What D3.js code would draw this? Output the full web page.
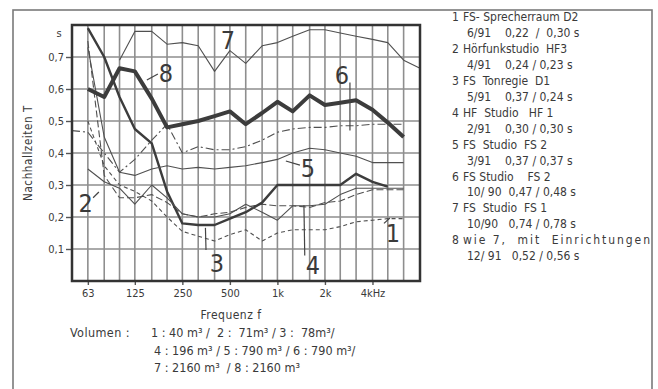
<!DOCTYPE html>
<html>
<head>
<meta charset="utf-8">
<script src="https://cdn.jsdelivr.net/npm/d3@7"></script>
<style>
  body { margin: 0; background: #fff; }
  svg text { font-family: "DejaVu Sans Condensed", "Liberation Sans Narrow", "DejaVu Sans", sans-serif; fill: #3a3a3a; }
</style>
</head>
<body>
<svg id="chart" width="658" height="389"></svg>
<script>
// third-octave frequencies used as x positions
const freqs = [50, 63, 80, 100, 125, 160, 200, 250, 315, 400, 500, 630, 800, 1000, 1250, 1600, 2000, 2500, 3150, 4000, 5000, 6300, 8000];
const gridFreqs = freqs.slice(1, -1);
const xTicks = [63, 125, 250, 500, 1000, 2000, 4000];
const xTickLabels = ['63', '125', '250', '500', '1k', '2k', '4kHz'];
const yTicks = [0.1, 0.2, 0.3, 0.4, 0.5, 0.6, 0.7];

// reverberation time per curve, values aligned with freqs (null = no point)
const curve1 = [null, 0.50, 0.36, 0.30, 0.28, 0.25, 0.20, 0.155, 0.14, 0.125, 0.145, 0.16, 0.125, 0.15, 0.16, 0.16, 0.16, 0.17, 0.185, 0.19, 0.195, 0.195, null];
const curve2 = [null, 0.75, 0.33, 0.26, 0.26, 0.27, 0.245, 0.21, 0.20, 0.21, 0.215, 0.23, 0.24, 0.235, 0.235, 0.23, 0.245, 0.25, 0.27, 0.285, 0.285, 0.285, null];
const curve3 = [null, 0.79, 0.70, 0.575, 0.475, 0.43, 0.28, 0.18, 0.175, 0.175, 0.195, 0.215, 0.245, 0.30, 0.30, 0.30, 0.30, 0.30, 0.335, 0.31, 0.295, null, null];
const curve4 = [null, 0.35, 0.31, 0.29, 0.24, 0.30, 0.26, 0.21, 0.20, 0.20, 0.21, 0.24, 0.215, 0.19, 0.235, 0.235, 0.24, 0.27, 0.29, 0.29, 0.29, 0.29, null];
const curve5 = [null, 0.73, 0.45, 0.34, 0.33, 0.35, 0.36, 0.35, 0.355, 0.35, 0.355, 0.36, 0.37, 0.38, 0.40, 0.415, 0.41, 0.40, 0.39, 0.37, 0.37, 0.37, null];
const curve6 = [0.47, 0.465, 0.40, 0.34, 0.38, 0.44, 0.49, 0.40, 0.42, 0.41, 0.41, 0.42, 0.44, 0.465, 0.475, 0.48, 0.48, 0.485, 0.485, 0.49, 0.49, 0.49, null];
const curve7 = [null, null, null, 0.69, 0.78, 0.78, 0.74, 0.745, 0.735, 0.655, 0.72, 0.68, 0.735, 0.745, 0.765, 0.785, 0.785, 0.775, 0.765, 0.755, 0.745, 0.69, 0.665];
const curve8 = [null, 0.60, 0.575, 0.665, 0.655, 0.57, 0.48, 0.49, 0.50, 0.515, 0.53, 0.49, 0.525, 0.56, 0.53, 0.58, 0.55, 0.557, 0.565, 0.535, 0.495, 0.45, null];

const curves = [
  { id: 1, values: curve1, width: 1.1, dash: '4,3' },
  { id: 2, values: curve2, width: 1.1, dash: '7,3' },
  { id: 3, values: curve3, width: 2.4, dash: null },
  { id: 4, values: curve4, width: 1.1, dash: null },
  { id: 5, values: curve5, width: 1.1, dash: null },
  { id: 6, values: curve6, width: 1.1, dash: '8,3,2,3' },
  { id: 7, values: curve7, width: 1.1, dash: null },
  { id: 8, values: curve8, width: 4, dash: null }
];

// curve numbers with leader lines, in data units (freq, seconds)
const curveLabels = [
  { text: '1', f: 5390, v: 0.15, leader: [[4730, 0.18], [5160, 0.197]] },
  { text: '2', f: 61, v: 0.244, leader: [[68, 0.26], [74, 0.278]] },
  { text: '3', f: 414, v: 0.056, leader: [[353, 0.097], [350, 0.166]] },
  { text: '4', f: 1680, v: 0.05, leader: [[1490, 0.08], [1472, 0.237]] },
  { text: '5', f: 1561, v: 0.353, leader: [[1131, 0.375], [1389, 0.362]] },
  { text: '6', f: 2562, v: 0.644, leader: [[2880, 0.62], [2880, 0.47]] },
  { text: '7', f: 486, v: 0.753, leader: null },
  { text: '8', f: 197, v: 0.65, leader: [[149, 0.628], [175, 0.647]] }
];

const legendRows = [
  ['1', 'FS- Sprecherraum D2'], ['', '6/91    0,22  /  0,30 s'],
  ['2', 'Hörfunkstudio  HF3'], ['', '4/91    0,24 / 0,23 s'],
  ['3', 'FS  Tonregie  D1'], ['', '5/91    0,37 / 0,24 s'],
  ['4', 'HF  Studio   HF 1'], ['', '2/91    0,30 / 0,30 s'],
  ['5', 'FS  Studio  FS 2'], ['', '3/91    0,37 / 0,37 s'],
  ['6', 'FS Studio    FS 2'], ['', '10/ 90  0,47 / 0,48 s'],
  ['7', 'FS  Studio  FS 1'], ['', '10/90   0,74 / 0,78 s'],
  ['8', 'wie 7,  mit  Einrichtungen'], ['', '12/ 91   0,52 / 0,56 s']
];

const volumeLines = [
  '1 : 40 m³ /  2 :  71m³ / 3 :  78m³/',
  '4 : 196 m³ / 5 : 790 m³ / 6 : 790 m³/',
  '7 : 2160 m³  / 8 : 2160 m³'
];

const svg = d3.select('#chart');
const PLOT = { left: 72, right: 420, top: 25, bottom: 281 };

const x = d3.scaleLog().base(2).domain([50, 8000]).range([PLOT.left, PLOT.right]);
const y = d3.scaleLinear().domain([0, 0.8]).range([PLOT.bottom, PLOT.top]);

// outer frame
svg.append('rect')
  .attr('x', 13).attr('y', 10)
  .attr('width', 639).attr('height', 400)
  .attr('fill', 'none')
  .attr('stroke', '#7a7a7a')
  .attr('stroke-width', 1.6);

// grid
const grid = svg.append('g').attr('stroke', '#8e8e8e').attr('stroke-width', 1.6);
grid.selectAll('.vg')
  .data(gridFreqs)
  .enter()
  .append('line')
  .attr('x1', d => x(d)).attr('x2', d => x(d))
  .attr('y1', PLOT.top).attr('y2', PLOT.bottom);
grid.selectAll('.hg')
  .data(yTicks)
  .enter()
  .append('line')
  .attr('x1', PLOT.left).attr('x2', PLOT.right)
  .attr('y1', d => y(d)).attr('y2', d => y(d));

// axes
const yAxis = d3.axisLeft(y)
  .tickValues(yTicks)
  .tickSize(6)
  .tickPadding(2)
  .tickFormat(d => d3.format('.1f')(d).replace('.', ','));
const yg = svg.append('g')
  .attr('transform', `translate(${PLOT.left},0)`)
  .call(yAxis);
yg.select('.domain').remove();
yg.selectAll('line').attr('stroke', '#555').attr('stroke-width', 1.4);
yg.selectAll('text').attr('font-size', 11).attr('fill', '#3a3a3a');

const xAxis = d3.axisBottom(x)
  .tickValues(xTicks)
  .tickSize(4)
  .tickPadding(4)
  .tickFormat((d, i) => xTickLabels[i]);
const xg = svg.append('g')
  .attr('transform', `translate(0,${PLOT.bottom})`)
  .call(xAxis);
xg.select('.domain').remove();
xg.selectAll('line').attr('stroke', '#555').attr('stroke-width', 1.4);
xg.selectAll('text').attr('font-size', 11).attr('fill', '#3a3a3a');

svg.append('text')
  .attr('x', 59).attr('y', 37)
  .attr('text-anchor', 'middle')
  .attr('font-size', 11)
  .text('s');

// curves
const line = d3.line()
  .defined(d => d.v !== null)
  .x(d => x(d.f))
  .y(d => y(d.v));

const plot = svg.append('g');
plot.selectAll('.curve')
  .data(curves)
  .enter()
  .append('path')
  .attr('class', 'curve')
  .attr('d', c => line(c.values.map((v, i) => ({ f: freqs[i], v: v }))))
  .attr('fill', 'none')
  .attr('stroke', c => c.width > 2 ? '#3c3c3c' : '#505050')
  .attr('stroke-width', c => c.width)
  .attr('stroke-linejoin', 'round')
  .attr('stroke-dasharray', c => c.dash);

// frame
svg.append('rect')
  .attr('x', PLOT.left).attr('y', PLOT.top)
  .attr('width', PLOT.right - PLOT.left)
  .attr('height', PLOT.bottom - PLOT.top)
  .attr('fill', 'none')
  .attr('stroke', '#333')
  .attr('stroke-width', 2.5);

// curve numbers
const labels = svg.append('g');
labels.selectAll('.leader')
  .data(curveLabels.filter(d => d.leader))
  .enter()
  .append('line')
  .attr('x1', d => x(d.leader[0][0])).attr('y1', d => y(d.leader[0][1]))
  .attr('x2', d => x(d.leader[1][0])).attr('y2', d => y(d.leader[1][1]))
  .attr('stroke', '#444')
  .attr('stroke-width', 1.2);
labels.selectAll('.num')
  .data(curveLabels)
  .enter()
  .append('text')
  .attr('x', d => x(d.f)).attr('y', d => y(d.v))
  .attr('dy', '0.36em')
  .attr('text-anchor', 'middle')
  .attr('font-size', 25)
  .attr('fill', '#333')
  .text(d => d.text);

// axis titles
svg.append('text')
  .attr('transform', 'translate(32,153) rotate(-90)')
  .attr('text-anchor', 'middle')
  .attr('font-size', 11.5)
  .attr('letter-spacing', 0.6)
  .text('Nachhallzeiten   T');

svg.append('text')
  .attr('x', 231).attr('y', 319)
  .attr('text-anchor', 'middle')
  .attr('font-size', 12)
  .attr('letter-spacing', 0.5)
  .text('Frequenz  f');

svg.append('text')
  .attr('x', 70).attr('y', 337)
  .attr('font-size', 12.5)
  .attr('letter-spacing', 0.4)
  .text('Volumen :');

svg.selectAll('.vol')
  .data(volumeLines)
  .enter()
  .append('text')
  .attr('x', (d, i) => i === 0 ? 151 : 154)
  .attr('y', (d, i) => 337 + i * 17.5)
  .attr('font-size', 12.5)
  .style('white-space', 'pre')
  .text(d => d);

// legend
const legend = svg.append('g');
legend.selectAll('.lg')
  .data(legendRows)
  .enter()
  .append('text')
  .attr('x', d => d[0] ? 463 : 467)
  .attr('y', (d, i) => 21 + i * 15.95)
  .attr('font-size', 12)
  .style('white-space', 'pre')
  .text(d => d[1])
  .each(function (d) {
    if (d[0] === '8') d3.select(this).attr('textLength', 187).attr('lengthAdjust', 'spacing');
  });
legend.selectAll('.ln')
  .data(legendRows.filter(d => d[0]))
  .enter()
  .append('text')
  .attr('x', 452)
  .attr('y', (d, i) => 21 + i * 2 * 15.95)
  .attr('font-size', 12)
  .text(d => d[0]);
</script>
</body>
</html>
